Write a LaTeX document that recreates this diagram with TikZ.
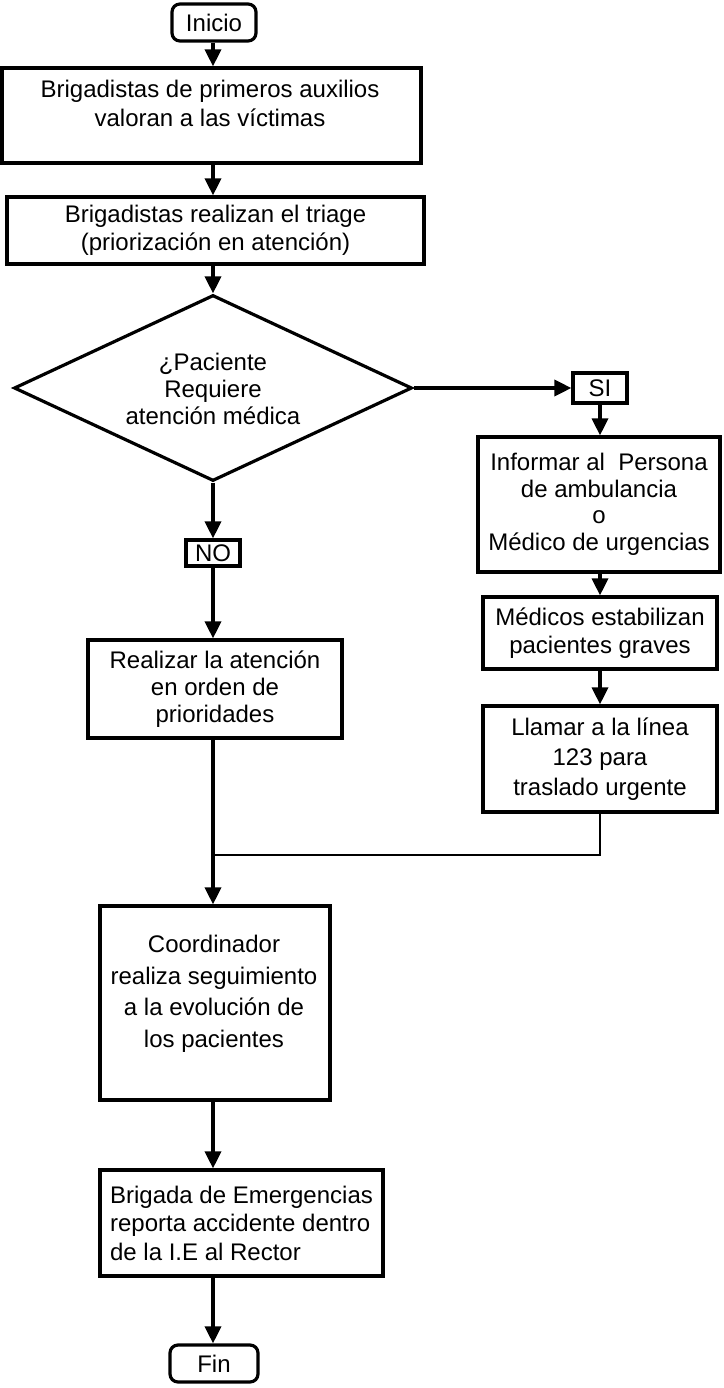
\documentclass[tikz,border=0pt]{standalone}
\usepackage{fontspec}
\setmainfont{Liberation Sans}
\usetikzlibrary{shapes.geometric,arrows.meta,calc}
\begin{document}
\begin{tikzpicture}[x=1pt,y=-1pt,
  box/.style={draw,line width=3.2pt,inner sep=0pt,align=center,font=\fontsize{24}{28.5}\selectfont},
  term/.style={box,rounded corners=8pt},
  txt/.style={inner sep=0pt,align=center,font=\fontsize{24}{28.5}\selectfont},
  arr/.style={line width=3.4pt,-{Triangle[length=17pt,width=16pt]}},
  ln/.style={line width=2.6pt}]
\useasboundingbox (0,0) rectangle (723,1388);
\fill[white] (0,0) rectangle (723,1388);
\coordinate (col) at (213,0);
\node[term,minimum width=84,minimum height=37] (ini) at (214,22.5) {Inicio};
\node[box,minimum width=419,minimum height=95] (b1) at (211.5,115.5) {};
\node[txt] (t1) at (210,103.5) {Brigadistas de primeros auxilios\\valoran a las víctimas};
\node[box,minimum width=417,minimum height=67] (b2) at (215.5,230.5) {Brigadistas realizan el triage\\(priorización en atención)};
\node[draw,line width=3.2pt,shape=diamond,aspect=2.14,minimum width=398,minimum height=186,inner sep=0pt] (dia) at (213,388) {};
\node[txt,font=\fontsize{24}{27}\selectfont] (td) at (213,389) {¿Paciente\\Requiere\\atención médica};
\node[box,minimum width=54,minimum height=30] (si) at (600,388) {SI};
\node[box,minimum width=242,minimum height=135,font=\fontsize{24}{26.5}\selectfont] (inf) at (599,504.5) {Informar al\ \ Persona\\de ambulancia\\o\\Médico de urgencias};
\node[box,minimum width=234,minimum height=72] (med) at (600,633) {Médicos estabilizan\\pacientes graves};
\node[box,minimum width=234,minimum height=106,font=\fontsize{24}{30}\selectfont] (lla) at (600,759) {Llamar a la línea\\123 para\\traslado urgente};
\node[box,minimum width=54,minimum height=26] (no) at (213,553) {NO};
\node[box,minimum width=254,minimum height=98,font=\fontsize{24}{27}\selectfont] (rea) at (215,689) {Realizar la atención\\en orden de\\prioridades};
\node[box,minimum width=230,minimum height=194] (coo) at (215,1003) {};
\node[txt,font=\fontsize{24}{31.5}\selectfont] (tc) at (214,994) {Coordinador\\realiza seguimiento\\a la evolución de\\los pacientes};
\node[box,minimum width=283,minimum height=106,align=left] (bri) at (241.5,1223) {Brigada de Emergencias\\reporta accidente dentro\\de la I.E al Rector};
\node[term,minimum width=88,minimum height=37] (fin) at (214,1363.5) {Fin};
\coordinate (j) at (213,855);
\draw[arr] (ini.south -| col) -- (b1.north -| col);
\draw[arr] (b1.south -| col) -- (b2.north -| col);
\draw[arr] (b2.south -| col) -- (dia.north);
\draw[arr] (dia.east) -- (si.west);
\draw[arr] (si.south) -- (inf.north -| si.south);
\draw[arr] (inf.south -| si.south) -- (med.north);
\draw[arr] (med.south) -- (lla.north);
\draw[arr] (dia.south) -- (no.north);
\draw[arr] (no.south) -- (rea.north -| col);
\draw[arr] (rea.south -| col) -- (coo.north -| col);
\draw[line width=2.6pt] (lla.south) |- (j);
\draw[arr] (coo.south -| col) -- (bri.north -| col);
\draw[arr] (bri.south -| col) -- (fin.north -| col);
\end{tikzpicture}
\end{document}
